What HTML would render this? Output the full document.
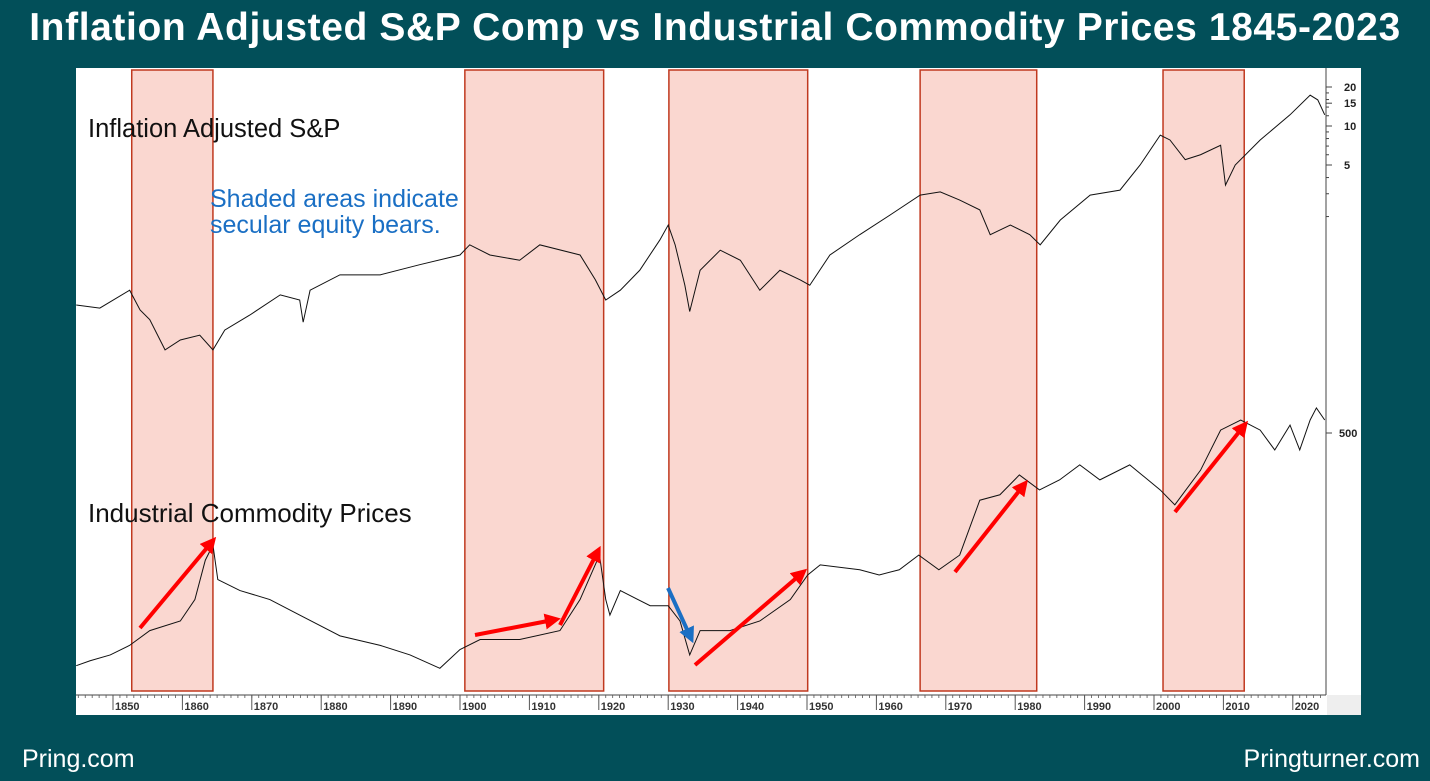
<!DOCTYPE html>
<html><head><meta charset="utf-8"><style>
body{margin:0;width:1430px;height:781px;background:#024f59;overflow:hidden;font-family:"Liberation Sans",sans-serif}
#title{position:absolute;left:0;top:6px;width:1430px;text-align:center;color:#fff;font-weight:bold;font-size:39px;letter-spacing:0.6px;white-space:nowrap}
.foot{position:absolute;top:745px;color:#fff;font-size:25px}
svg{position:absolute;left:0;top:0}
</style></head><body>
<div id="title">Inflation Adjusted S&amp;P Comp vs Industrial Commodity Prices 1845-2023</div>
<div class="foot" style="left:22px">Pring.com</div>
<div class="foot" style="right:10px">Pringturner.com</div>
<svg id="c" width="1430" height="781"></svg>
<script>
const spYears=[1844.7,1848.1,1852.4,1853.9,1855.3,1857.5,1859.7,1862.5,1864.4,1866.1,1869.7,1874.1,1876.9,1877.4,1878.4,1882.7,1888.5,1894.2,1900,1901.4,1904.3,1908.6,1911.5,1917.3,1919.5,1921,1923.1,1925.9,1928.8,1930,1931,1932.4,1933.1,1934.6,1937.5,1940.4,1943.2,1946.1,1949,1950.4,1953.3,1957.6,1962,1966.3,1969.2,1972,1974.9,1976.4,1979.3,1982.1,1983.6,1986.5,1990.8,1995.1,1998,2000.9,2002.3,2004.5,2006.7,2009.6,2010.3,2011.7,2015.3,2019.6,2022.5,2023.6,2024.6];
const spValues=[0.415,0.393,0.54,0.38,0.32,0.187,0.223,0.243,0.187,0.266,0.347,0.497,0.454,0.306,0.54,0.71,0.71,0.85,1.01,1.21,1.01,0.92,1.21,1.01,0.65,0.454,0.54,0.77,1.32,1.72,1.21,0.59,0.37,0.77,1.10,0.92,0.54,0.77,0.65,0.59,1.01,1.45,2.06,2.93,3.1,2.68,2.25,1.45,1.72,1.45,1.21,1.88,2.93,3.2,5.0,8.5,7.8,5.5,6.0,7.1,3.5,5.0,7.8,12.2,17.3,15.9,12.2];
const cmYears=[1844.7,1846.7,1849.6,1852.4,1855.3,1859.7,1861.8,1863.3,1864.4,1865.1,1868.3,1872.6,1876.9,1882.7,1888.5,1892.8,1897.1,1900,1902.9,1908.6,1914.4,1917.3,1920.1,1921,1921.6,1923.1,1927.4,1930,1931.7,1933.1,1934.6,1938.9,1943.2,1947.6,1950.1,1951.9,1957.6,1960.4,1963.3,1966.1,1969,1972,1974.9,1977.8,1980.6,1983.5,1986.4,1989.3,1992.2,1996.5,2000.9,2003,2006.7,2009.6,2012.5,2015.3,2017.4,2019.6,2021,2022.5,2023.4,2024.6];
const cmValues=[34,36,38.5,43,51,57,73,115,137,92,81,73,61,48,43,38.5,33,41,46,46,51,73,122,73,61,81,68,68,57,38.5,51,51,57,73,97,109,103,97,103,122,103,122,230,245,308,259,291,346,291,346,259,218,325,517,581,517,411,548,411,581,668,581];
const tickYears=[1850,1860,1870,1880,1890,1900,1910,1920,1930,1940,1950,1960,1970,1980,1990,2000,2010,2020];
const bearStarts=[1852.7,1900.7,1930.1,1966.3,2001.3];
const bearEnds=[1864.4,1920.7,1950.1,1983.1,2013];
const spTicks=[20,15,10,5];
const cmTicks=[500];

const NS="http://www.w3.org/2000/svg",svg=document.getElementById('c');
function x(yr){return 113+(yr-1850)*6.94;}
function ySp(v){return 126-Math.log2(v/10)*39;}
function yCm(v){return 433-Math.log2(v/500)*60;}
function mk(t,a,p){const e=document.createElementNS(NS,t);for(const k in a)e.setAttribute(k,a[k]);(p||svg).appendChild(e);return e;}
let bg=mk('rect',{x:76,y:68,width:1285,height:647,fill:'#fff'});


mk('rect',{x:1327,y:695,width:34,height:20,fill:'#eeeeee'});
bearStarts.forEach((s,i)=>{
 const r=mk('rect',{x:x(s),y:70,width:x(bearEnds[i])-x(s),height:621,fill:'#fad7d0',stroke:'#c0391f','stroke-width':1.5});
 
 
});
mk('line',{x1:76,y1:695,x2:1326,y2:695,stroke:'#444'});
for(let yr=1845;yr<=2024;yr++){mk('line',{x1:x(yr),y1:695,x2:x(yr),y2:698,stroke:'#555','stroke-width':0.8});}
tickYears.forEach(yr=>{
 mk('line',{x1:x(yr),y1:695,x2:x(yr),y2:710,stroke:'#555'});
 const t=mk('text',{x:x(yr)+2,y:710,'font-size':11,'font-weight':'bold',fill:'#333'});t.textContent=yr;
 
 
});
mk('line',{x1:1326,y1:68,x2:1326,y2:695,stroke:'#444'});
for(let v of [2,3,4,6,7,8,9,12,14,16,18]){mk('line',{x1:1326,y1:ySp(v),x2:1329,y2:ySp(v),stroke:'#444'});}
spTicks.forEach(v=>{mk('line',{x1:1326,y1:ySp(v),x2:1332,y2:ySp(v),stroke:'#444'});
 const t=mk('text',{x:1344,y:ySp(v)+4,'font-size':11,'font-weight':'bold',fill:'#222'});t.textContent=v;
 
 });
cmTicks.forEach(v=>{mk('line',{x1:1326,y1:yCm(v),x2:1332,y2:yCm(v),stroke:'#444'});
 const t=mk('text',{x:1339,y:yCm(v)+4,'font-size':11,'font-weight':'bold',fill:'#222'});t.textContent=v;
 
 });
let p=mk('polyline',{points:spYears.map((y,i)=>x(y)+','+ySp(spValues[i])).join(' '),fill:'none',stroke:'#111','stroke-width':1});


let q=mk('polyline',{points:cmYears.map((y,i)=>x(y)+','+yCm(cmValues[i])).join(' '),fill:'none',stroke:'#111','stroke-width':1});


const defs=mk('defs',{});
const mr=mk('marker',{id:'ar',markerWidth:4,markerHeight:4,refX:2,refY:2,orient:'auto'},defs);mk('path',{d:'M0,0L4,2L0,4z',fill:'#f00'},mr);
const mb=mk('marker',{id:'ab',markerWidth:4,markerHeight:4,refX:2,refY:2,orient:'auto'},defs);mk('path',{d:'M0,0L4,2L0,4z',fill:'#1a6fc4'},mb);
[[140,628,211,543],[475,635,553,620],[560,625,597,553],[695,665,801,574],[955,572,1023,486],[1175,512,1243,427]].forEach(a=>{
 const l=mk('line',{x1:a[0],y1:a[1],x2:a[2],y2:a[3],stroke:'#f00','stroke-width':4,'marker-end':'url(#ar)'});
 
 
});
const bl=mk('line',{x1:668,y1:588,x2:690,y2:636,stroke:'#1a6fc4','stroke-width':4,'marker-end':'url(#ab)'});


function lab(txt,xx,yy,col,name,fs){const t=mk('text',{x:xx,y:yy,'font-size':fs,fill:col});t.textContent=txt;
 
 }
lab('Inflation Adjusted S&P',88,137,'#111','sp-label',25.5);
lab('Shaded areas indicate',210,207,'#1a6fc4','note-line-1',25);
lab('secular equity bears.',210,233,'#1a6fc4','note-line-2',25);
lab('Industrial Commodity Prices',88,522,'#111','commodity-label',26);
</script>
</body></html>
